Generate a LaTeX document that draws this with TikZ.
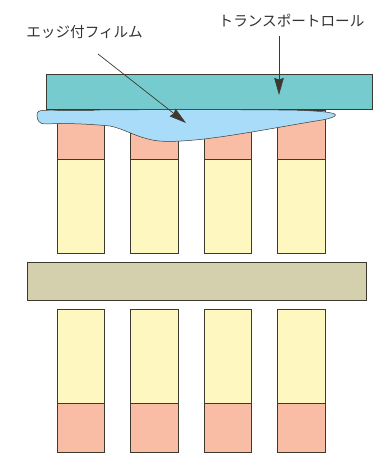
\documentclass[tikz,border=0pt]{standalone}
\usepackage{fontspec}
\newfontfamily\cjkfont{Noto Sans CJK JP}
\usetikzlibrary{arrows.meta}
\definecolor{rollteal}{HTML}{76CBCE}
\definecolor{padpink}{HTML}{F9BCA5}
\definecolor{padyellow}{HTML}{FEF8C0}
\definecolor{platebeige}{HTML}{D4D0AE}
\definecolor{filmblue}{HTML}{A8DCF8}
\definecolor{edgegray}{HTML}{3C3A30}
\tikzset{
	part/.style={draw=edgegray, line width=0.9pt},
	callout/.style={draw=edgegray, line width=0.7pt, -{Stealth[length=17pt,width=9.5pt,inset=1.5pt]}},
	partlabel/.style={font=\cjkfont\fontsize{14.6}{16}\selectfont, text=black!80, inner sep=0pt}
}

\begin{document}
\begin{tikzpicture}[x=1pt,y=-1pt]
	\useasboundingbox (0,0) rectangle (385,454);
	%%%%% PADS %%%%%
	\foreach \xa/\xb in {57.5/104.5, 130.5/178, 204/251.5, 277.5/325}{
		\draw[part,fill=padpink] (\xa,110) rectangle (\xb,159);
		\draw[part,fill=padyellow] (\xa,159) rectangle (\xb,253);
		\draw[part,fill=padyellow] (\xa,309) rectangle (\xb,403);
		\draw[part,fill=padpink] (\xa,403) rectangle (\xb,452);
	}
	%%%%% ROLL AND PLATE %%%%%
	\draw[part,fill=rollteal] (46.5,74) rectangle (372.5,109.5);
	\draw[part,fill=platebeige] (27,262) rectangle (366.5,300);
	%%%%% FILM %%%%%
	\draw[draw=edgegray,line width=0.5pt,fill=filmblue] (37,115) .. controls (37,111.5) and (39,110.5) .. (44,110.3)
		.. controls (60,110) and (80,111) .. (100,110)
		.. controls (150,109.5) and (260,109.5) .. (300,110.3)
		.. controls (315,111) and (335,112) .. (335.5,115)
		.. controls (335,117) and (330,118.5) .. (322,120)
		.. controls (290,125) and (240,135) .. (200,139.5)
		.. controls (180,141.5) and (165,142) .. (155,140.5)
		.. controls (135,137) and (125,129) .. (110,126)
		.. controls (90,124) and (70,123.5) .. (60,123.5)
		-- (45,124) .. controls (39,124) and (37,120) .. (37,115) -- cycle;
	%%%%% LABELS %%%%%
	\node[partlabel] (filmlabel) at (84.5,32.5) {エッジ付フィルム};
	\node[partlabel] (rolllabel) at (291.5,20.5) {トランスポートロール};
	\coordinate (filmstart) at (98,54);
	\coordinate (filmtip) at (186,123);
	\coordinate (rollstart) at (279,36);
	\coordinate (rolltip) at (279,95);
	\draw[callout] (filmstart) -- (filmtip);
	\draw[callout] (rollstart) -- (rolltip);
\end{tikzpicture}
\end{document}
